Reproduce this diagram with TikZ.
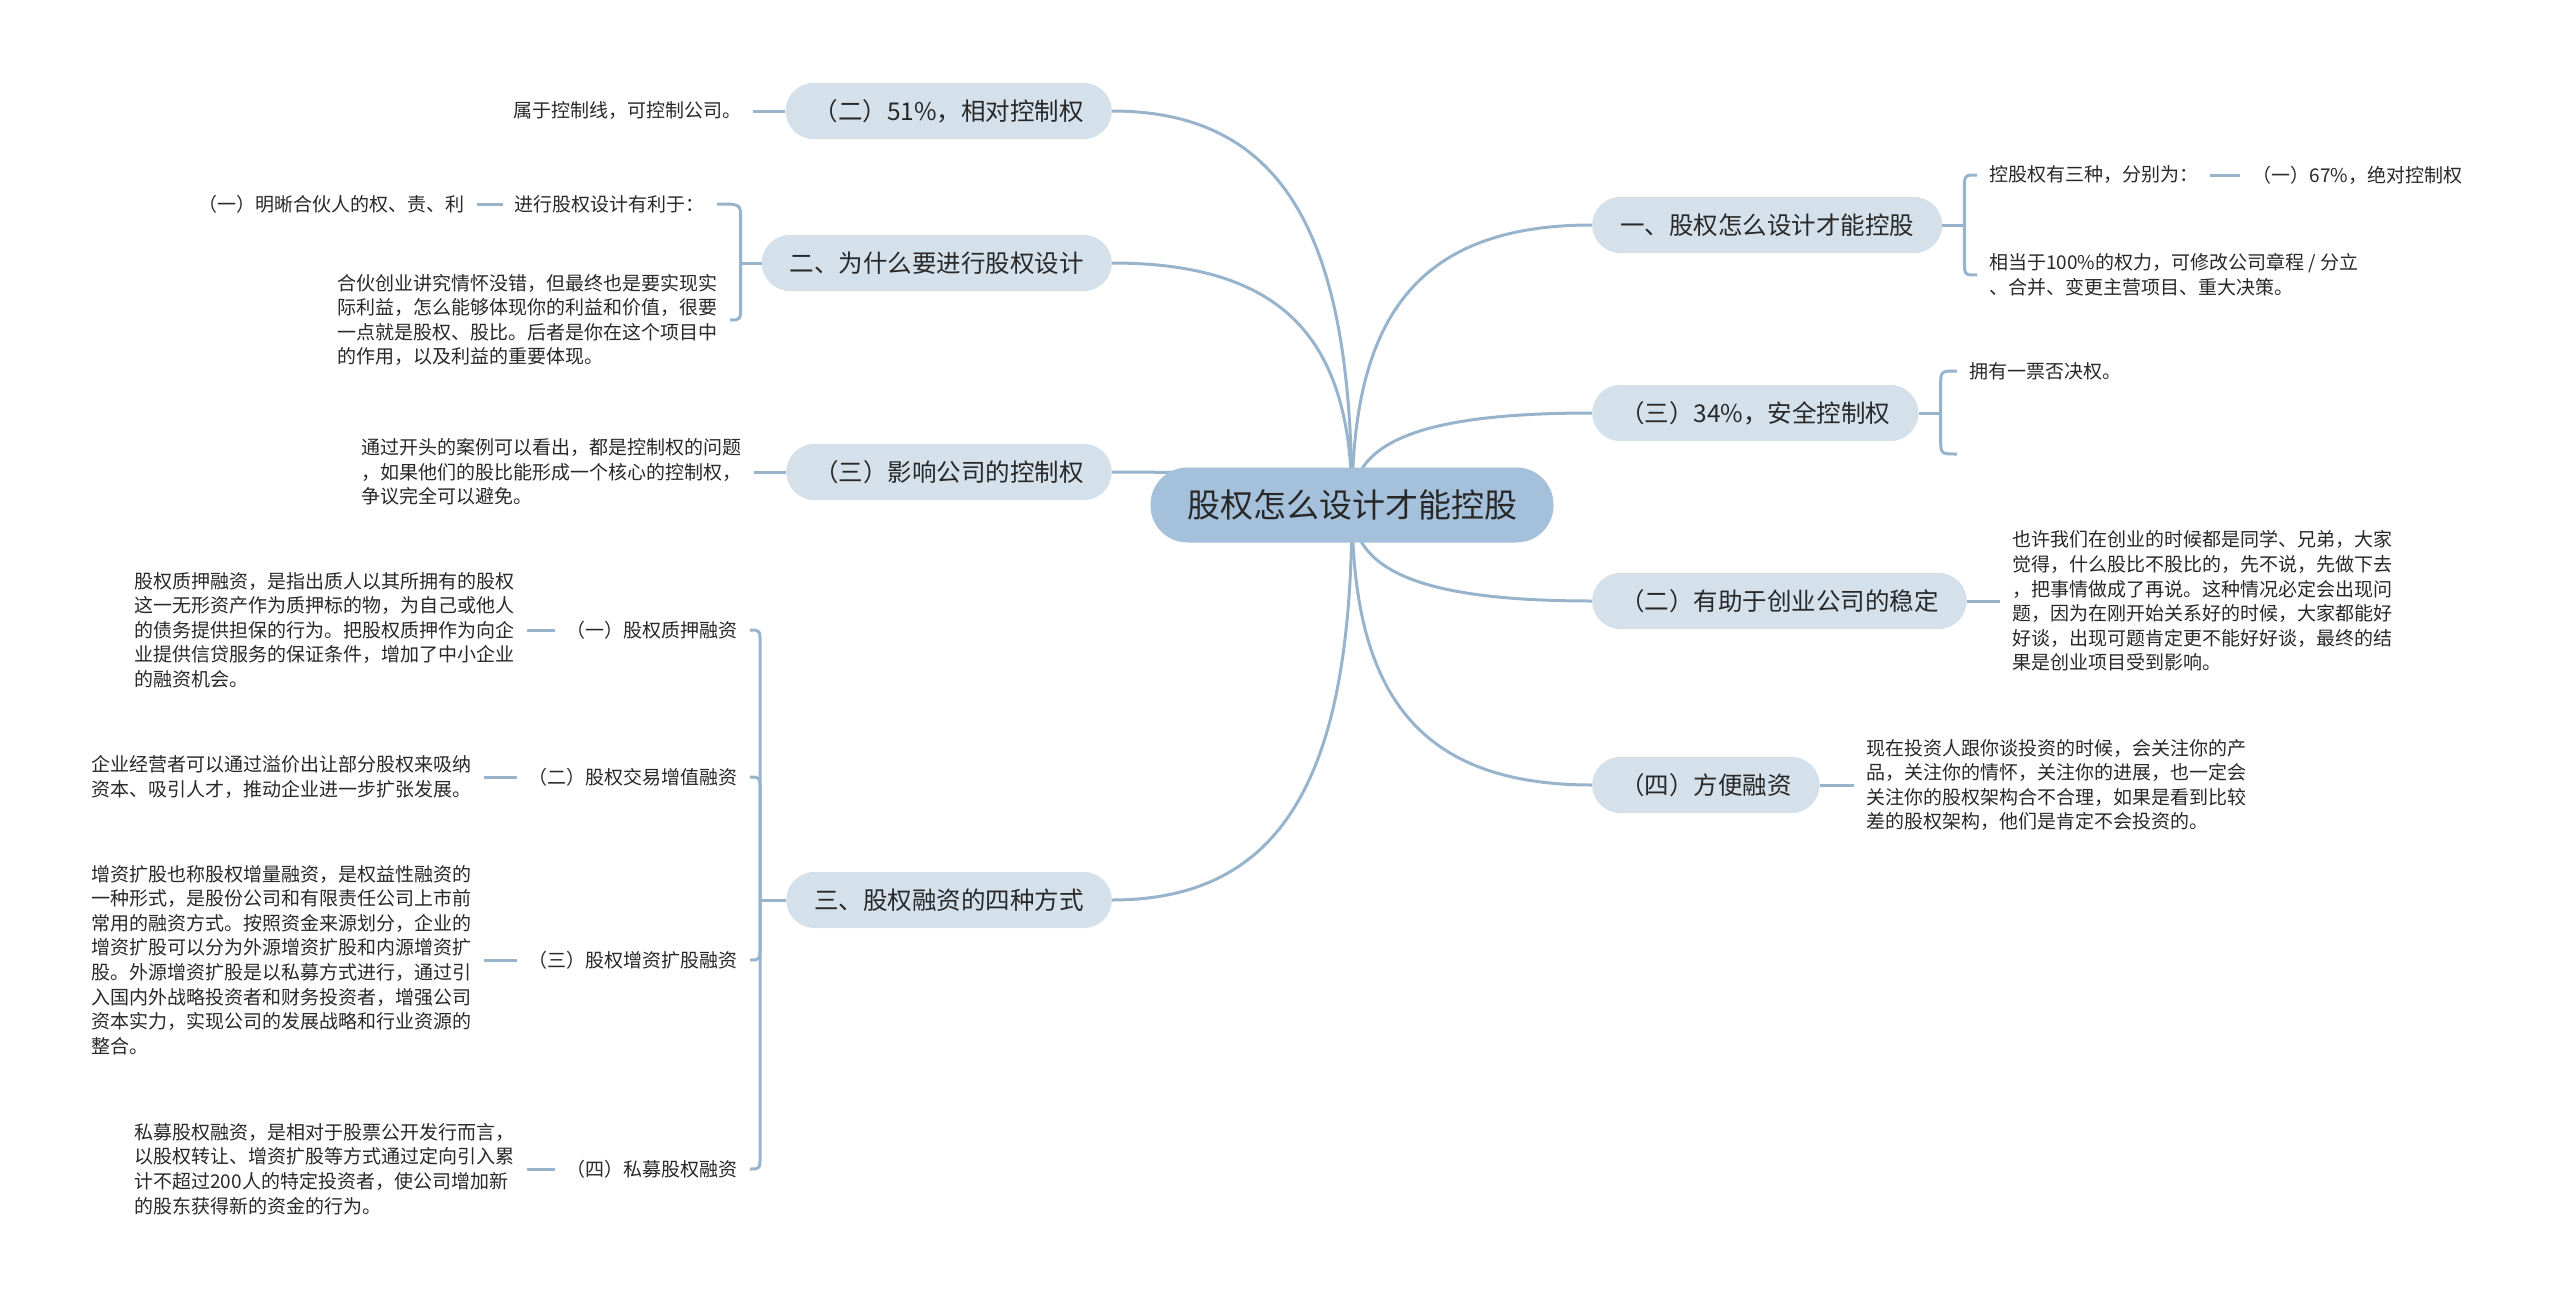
\documentclass[tikz,border=0pt]{standalone}
\usepackage{fontspec}
\setmainfont{Noto Sans CJK SC}
\usepackage{xcolor}
\usetikzlibrary{positioning, calc, backgrounds}
\definecolor{MapRoot}{RGB}{165,192,218}
\definecolor{MapBranch}{RGB}{212,224,234}
\definecolor{MapLine}{RGB}{151,180,204}
\definecolor{MapText}{RGB}{40,40,40}

\begin{document}
\begin{tikzpicture}[
  x=1pt, y=-1pt,
  root/.style={fill=MapRoot, rounded corners=37pt, minimum height=75pt, minimum width=403pt,
               inner xsep=36pt, text=MapText, font=\fontsize{33}{40}\selectfont},
  branch/.style={fill=MapBranch, rounded corners=28pt, minimum height=56pt, inner xsep=28pt,
                 text=MapText, font=\fontsize{24.5}{30}\selectfont},
  leaf/.style={inner xsep=12pt, inner ysep=2pt, align=left, text=MapText,
               font=\fontsize{19}{24.6}\selectfont},
  link/.style={draw=MapLine, line width=3pt},
  rootlink/.style={to path={.. controls ($(\tikztostart)!0.65!(\tikztostart |- \tikztotarget)$)
                   and ($(\tikztotarget)!0.75!(\tikztostart |- \tikztotarget)$) .. (\tikztotarget)}},
]
\useasboundingbox (0,0) rectangle (2560,1309);
%% Root
\node[root] (root) at (1352,505) {股权怎么设计才能控股};
%% Left branches
\node[branch, anchor=east] (n51) at (1112,111) {（二）51\%，相对控制权};
\node[branch, anchor=east] (n2) at (1112,263) {二、为什么要进行股权设计};
\node[branch, anchor=east] (n3) at (1112,472) {（三）影响公司的控制权};
\node[branch, anchor=east] (n4) at (1112,900) {三、股权融资的四种方式};
%% Right branches
\node[branch, anchor=west] (r1) at (1592,225) {一、股权怎么设计才能控股};
\node[branch, anchor=west] (r2) at (1592,413) {（三）34\%，安全控制权};
\node[branch, anchor=west] (r3) at (1592,601) {（二）有助于创业公司的稳定};
\node[branch, anchor=west] (r4) at (1592,785) {（四）方便融资};
%% Leaves left
\node[leaf, left=32pt of n51] (l51) {属于控制线，可控制公司。};
\node[leaf, anchor=east] (l2a) at (717,204) {进行股权设计有利于：};
\node[leaf, left=26pt of l2a] (l2c) {（一）明晰合伙人的权、责、利};
\node[leaf, anchor=east] (l2b) at (730,320)
  {合伙创业讲究情怀没错，但最终也是要实现实\\际利益，怎么能够体现你的利益和价值，很要\\一点就是股权、股比。后者是你在这个项目中\\的作用，以及利益的重要体现。};
\node[leaf, left=32pt of n3] (l3)
  {通过开头的案例可以看出，都是控制权的问题\\，如果他们的股比能形成一个核心的控制权，\\争议完全可以避免。};
\node[leaf, anchor=east] (l4a) at (750,630) {（一）股权质押融资};
\node[leaf, anchor=east] (l4b) at (750,777) {（二）股权交易增值融资};
\node[leaf, anchor=east] (l4c) at (750,960) {（三）股权增资扩股融资};
\node[leaf, anchor=east] (l4d) at (750,1169) {（四）私募股权融资};
\node[leaf, left=28pt of l4a] (p4a)
  {股权质押融资，是指出质人以其所拥有的股权\\这一无形资产作为质押标的物，为自己或他人\\的债务提供担保的行为。把股权质押作为向企\\业提供信贷服务的保证条件，增加了中小企业\\的融资机会。};
\node[leaf, left=33pt of l4b] (p4b)
  {企业经营者可以通过溢价出让部分股权来吸纳\\资本、吸引人才，推动企业进一步扩张发展。};
\node[leaf, left=33pt of l4c] (p4c)
  {增资扩股也称股权增量融资，是权益性融资的\\一种形式，是股份公司和有限责任公司上市前\\常用的融资方式。按照资金来源划分，企业的\\增资扩股可以分为外源增资扩股和内源增资扩\\股。外源增资扩股是以私募方式进行，通过引\\入国内外战略投资者和财务投资者，增强公司\\资本实力，实现公司的发展战略和行业资源的\\整合。};
\node[leaf, left=28pt of l4d] (p4d)
  {私募股权融资，是相对于股票公开发行而言，\\以股权转让、增资扩股等方式通过定向引入累\\计不超过200人的特定投资者，使公司增加新\\的股东获得新的资金的行为。};
%% Leaves right
\node[leaf, anchor=west] (r1a) at (1977,175) {控股权有三种，分别为：};
\node[leaf, right=30pt of r1a] (r1c) {（一）67\%，绝对控制权};
\node[leaf, anchor=west] (r1b) at (1977,275)
  {相当于100\%的权力，可修改公司章程 / 分立\\、合并、变更主营项目、重大决策。};
\node[leaf, anchor=west] (r2a) at (1957,371) {拥有一票否决权。};
\coordinate (r2b) at (1957,454);
\node[leaf, right=33pt of r3] (p3)
  {也许我们在创业的时候都是同学、兄弟，大家\\觉得，什么股比不股比的，先不说，先做下去\\，把事情做成了再说。这种情况必定会出现问\\题，因为在刚开始关系好的时候，大家都能好\\好谈，出现可题肯定更不能好好谈，最终的结\\果是创业项目受到影响。};
\node[leaf, right=34pt of r4] (p4)
  {现在投资人跟你谈投资的时候，会关注你的产\\品，关注你的情怀，关注你的进展，也一定会\\关注你的股权架构合不合理，如果是看到比较\\差的股权架构，他们是肯定不会投资的。};
%% Fork points
\coordinate (s2) at ($(n2.west)+(-21,0)$);
\coordinate (s4) at ($(n4.west)+(-26,0)$);
\coordinate (t1) at ($(r1.east)+(22,0)$);
\coordinate (t2) at ($(r2.east)+(22,0)$);
%% Root links
\begin{scope}[on background layer]
\draw[link] (root.center) to[rootlink] (n51.east);
\draw[link] (root.center) to[rootlink] (n2.east);
\draw[link] (root.center) to[rootlink] (n3.east);
\draw[link] (root.center) to[rootlink] (n4.east);
\draw[link] (root.center) to[rootlink] (r1.west);
\draw[link] (root.center) to[rootlink] (r2.west);
\draw[link] (root.center) to[rootlink] (r3.west);
\draw[link] (root.center) to[rootlink] (r4.west);
\end{scope}
%% Straight links
\draw[link] (n51.west) -- (l51.east);
\draw[link] (l2a.west) -- (l2c.east);
\draw[link] (n3.west) -- (l3.east);
\draw[link] (l4a.west) -- (p4a.east);
\draw[link] (l4b.west) -- (p4b.east);
\draw[link] (l4c.west) -- (p4c.east);
\draw[link] (l4d.west) -- (p4d.east);
\draw[link] (r1a.east) -- (r1c.west);
\draw[link] (r3.east) -- (p3.west);
\draw[link] (r4.east) -- (p4.west);
%% Forks
\draw[link] (n2.west) -- (s2);
\draw[link] (s2) -- ($(s2 |- l2a.east)+(0,15)$) .. controls (s2 |- l2a.east) .. (l2a.east);
\draw[link] (s2) -- ($(s2 |- l2b.east)+(0,-15)$) .. controls (s2 |- l2b.east) .. (l2b.east);
\draw[link] (n4.west) -- (s4);
\draw[link] (s4) -- ($(s4 |- l4a.east)+(0,15)$) .. controls (s4 |- l4a.east) .. (l4a.east);
\draw[link] (s4) -- ($(s4 |- l4b.east)+(0,15)$) .. controls (s4 |- l4b.east) .. (l4b.east);
\draw[link] (s4) -- ($(s4 |- l4c.east)+(0,-15)$) .. controls (s4 |- l4c.east) .. (l4c.east);
\draw[link] (s4) -- ($(s4 |- l4d.east)+(0,-15)$) .. controls (s4 |- l4d.east) .. (l4d.east);
\draw[link] (r1.east) -- (t1);
\draw[link] (t1) -- ($(t1 |- r1a.west)+(0,15)$) .. controls (t1 |- r1a.west) .. (r1a.west);
\draw[link] (t1) -- ($(t1 |- r1b.west)+(0,-15)$) .. controls (t1 |- r1b.west) .. (r1b.west);
\draw[link] (r2.east) -- (t2);
\draw[link] (t2) -- ($(t2 |- r2a.west)+(0,15)$) .. controls (t2 |- r2a.west) .. (r2a.west);
\draw[link] (t2) -- ($(t2 |- r2b)+(0,-15)$) .. controls (t2 |- r2b) .. (r2b);
\end{tikzpicture}
\end{document}
